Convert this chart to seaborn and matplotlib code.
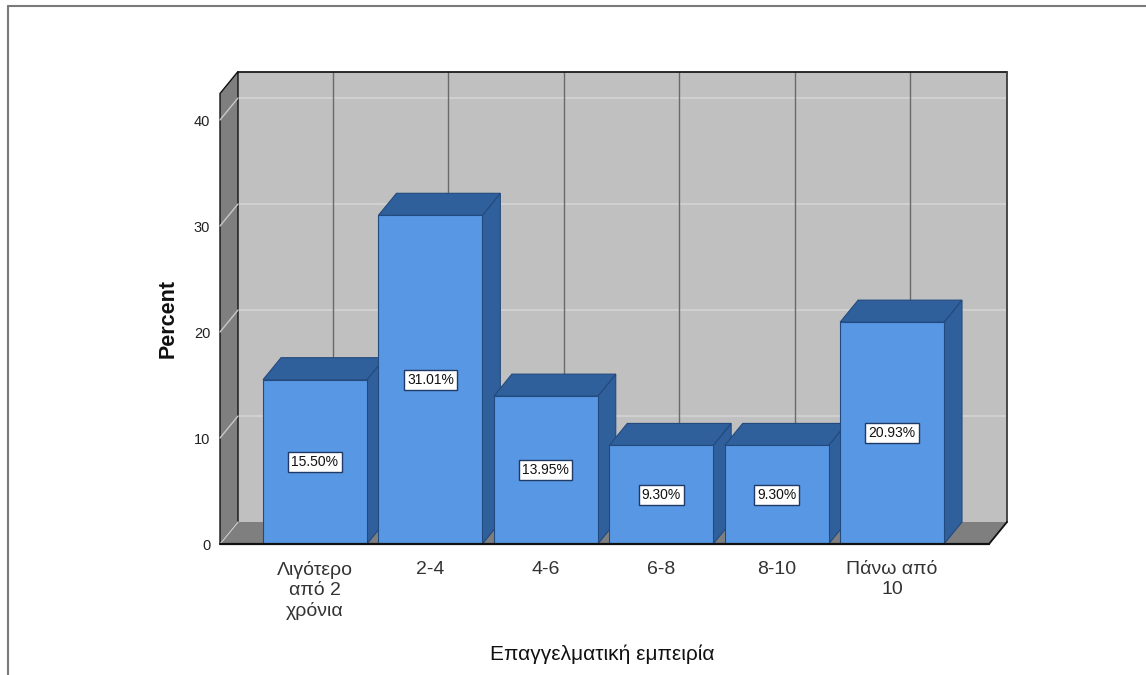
import matplotlib
matplotlib.use("Agg")
import matplotlib.pyplot as plt
from matplotlib.patches import Polygon
from matplotlib.lines import Line2D
from matplotlib.transforms import IdentityTransform
import numpy as np
import pandas as pd
import seaborn as sns

# Data
categories = ["Λιγότερο\nαπό 2\nχρόνια", "2-4", "4-6", "6-8", "8-10", "Πάνω από\n10"]
percent = [15.50, 31.01, 13.95, 9.30, 9.30, 20.93]
value_labels = ["15.50%", "31.01%", "13.95%", "9.30%", "9.30%", "20.93%"]
y_ticks = [0, 10, 20, 30, 40]

sns.set_style("white")
plt.rcParams["font.family"] = ["Liberation Sans", "DejaVu Sans"]

W, H = 1146, 675
DPI = 100
fig = plt.figure(figsize=(W / DPI, H / DPI), dpi=DPI)

# front plane of the 3-D frame, in pixels
LEFT, RIGHT, BOTTOM, TOP = 220, 989, 544, 93.5
DX, DY = 18, 22  # depth offset of the back plane (pixels, right and up)

ax = fig.add_axes([LEFT / W, (H - BOTTOM) / H, (RIGHT - LEFT) / W, (BOTTOM - TOP) / H])
ax.patch.set_alpha(0)

XMIN, XMAX = -0.823, 5.84
YMAX = 42.5

df = pd.DataFrame({"cat": categories, "pct": percent})
FRONT = "#5797E3"
SHADE = "#30609C"
EDGE = "#234A7E"
sns.barplot(data=df, x="cat", y="pct", order=categories, color=FRONT, saturation=1,
            width=0.9, edgecolor=EDGE, linewidth=0.8, ax=ax)
bars = list(ax.patches)
ax.set_xlim(XMIN, XMAX)
ax.set_ylim(0, YMAX)
for s in ax.spines.values():
    s.set_visible(False)

ident = IdentityTransform()


def disp(x, y, back=False):
    p = ax.transData.transform((x, y))
    if back:
        p = p + np.array([DX, DY])
    return p


def poly(pts, **kw):
    patch = Polygon(np.array(pts), closed=True, transform=ident, clip_on=False, **kw)
    ax.add_artist(patch)
    return patch


def line(p0, p1, **kw):
    ln = Line2D([p0[0], p1[0]], [p0[1], p1[1]], transform=ident, clip_on=False, **kw)
    ax.add_artist(ln)
    return ln


# back wall
poly([disp(XMIN, 0, True), disp(XMAX, 0, True), disp(XMAX, YMAX, True), disp(XMIN, YMAX, True)],
     facecolor="#C0C0C0", edgecolor="none", zorder=0.2)
for t in y_ticks[1:]:
    line(disp(XMIN, t, True), disp(XMAX, t, True), color="#D2D2D2", lw=1.3, zorder=0.3)
for i in range(len(categories)):
    line(disp(i, 0, True), disp(i, YMAX, True), color="#6A6A6A", lw=1.0, zorder=0.3)
line(disp(XMIN, YMAX, True), disp(XMAX, YMAX, True), color="#1A1A1A", lw=1.3, zorder=0.4)
line(disp(XMAX, 0, True), disp(XMAX, YMAX, True), color="#3A3A3A", lw=1.3, zorder=0.4)

# left side wall
poly([disp(XMIN, 0), disp(XMIN, YMAX), disp(XMIN, YMAX, True), disp(XMIN, 0, True)],
     facecolor="#7F7F7F", edgecolor="#111111", lw=1.0, zorder=0.5)
for t in y_ticks:
    line(disp(XMIN, t), disp(XMIN, t, True), color="#C8C8C8", lw=1.0, zorder=0.6)

# floor
poly([disp(XMIN, 0), disp(XMAX, 0), disp(XMAX, 0, True), disp(XMIN, 0, True)],
     facecolor="#7F7F7F", edgecolor="none", zorder=0.5)
line(disp(XMAX, 0), disp(XMAX, 0, True), color="#111111", lw=1.3, zorder=0.6)

# bars: side and top faces behind each front face
for i, p in enumerate(bars):
    x0 = p.get_x()
    x1 = x0 + p.get_width()
    h = p.get_height()
    z = 2 + i * 0.01
    poly([disp(x1, 0), disp(x1, h), disp(x1, h, True), disp(x1, 0, True)],
         facecolor=SHADE, edgecolor=EDGE, lw=0.8, zorder=z)
    poly([disp(x0, h), disp(x1, h), disp(x1, h, True), disp(x0, h, True)],
         facecolor=SHADE, edgecolor=EDGE, lw=0.8, zorder=z)
    p.set_zorder(z + 0.005)
    ax.text(x0 + p.get_width() / 2, h / 2, value_labels[i], ha="center", va="center",
            fontsize=10, color="#111111", zorder=10,
            bbox=dict(boxstyle="square,pad=0.22", facecolor="white", edgecolor="#1F3A66", lw=1.0))

# front baseline
line(disp(XMIN, 0), disp(XMAX, 0), color="#111111", lw=1.6, zorder=3)

# axes text
ax.set_yticks(y_ticks)
ax.set_yticklabels([str(t) for t in y_ticks])
ax.tick_params(axis="y", length=0, pad=7, labelsize=10.5, labelcolor="#222222")
ax.tick_params(axis="x", length=0, pad=12, labelsize=14, labelcolor="#333333")
for lbl in ax.get_xticklabels():
    lbl.set_linespacing(1.25)
ax.set_xlabel("Επαγγελματική εμπειρία", fontsize=15, color="#111111")
ax.xaxis.set_label_coords(0.497, -0.222)
ax.set_ylabel("Percent", fontsize=15.5, fontweight="bold", color="#111111")
ax.yaxis.set_label_coords(-0.054, 0.5)

# outer frame
fig.add_artist(Line2D([8 / W, 1], [1 - 6 / H, 1 - 6 / H], transform=fig.transFigure, color="#7A7A7A", lw=1.5))
fig.add_artist(Line2D([8 / W, 8 / W], [0, 1 - 6 / H], transform=fig.transFigure, color="#7A7A7A", lw=1.5))

fig.savefig("out.png", dpi=DPI)
